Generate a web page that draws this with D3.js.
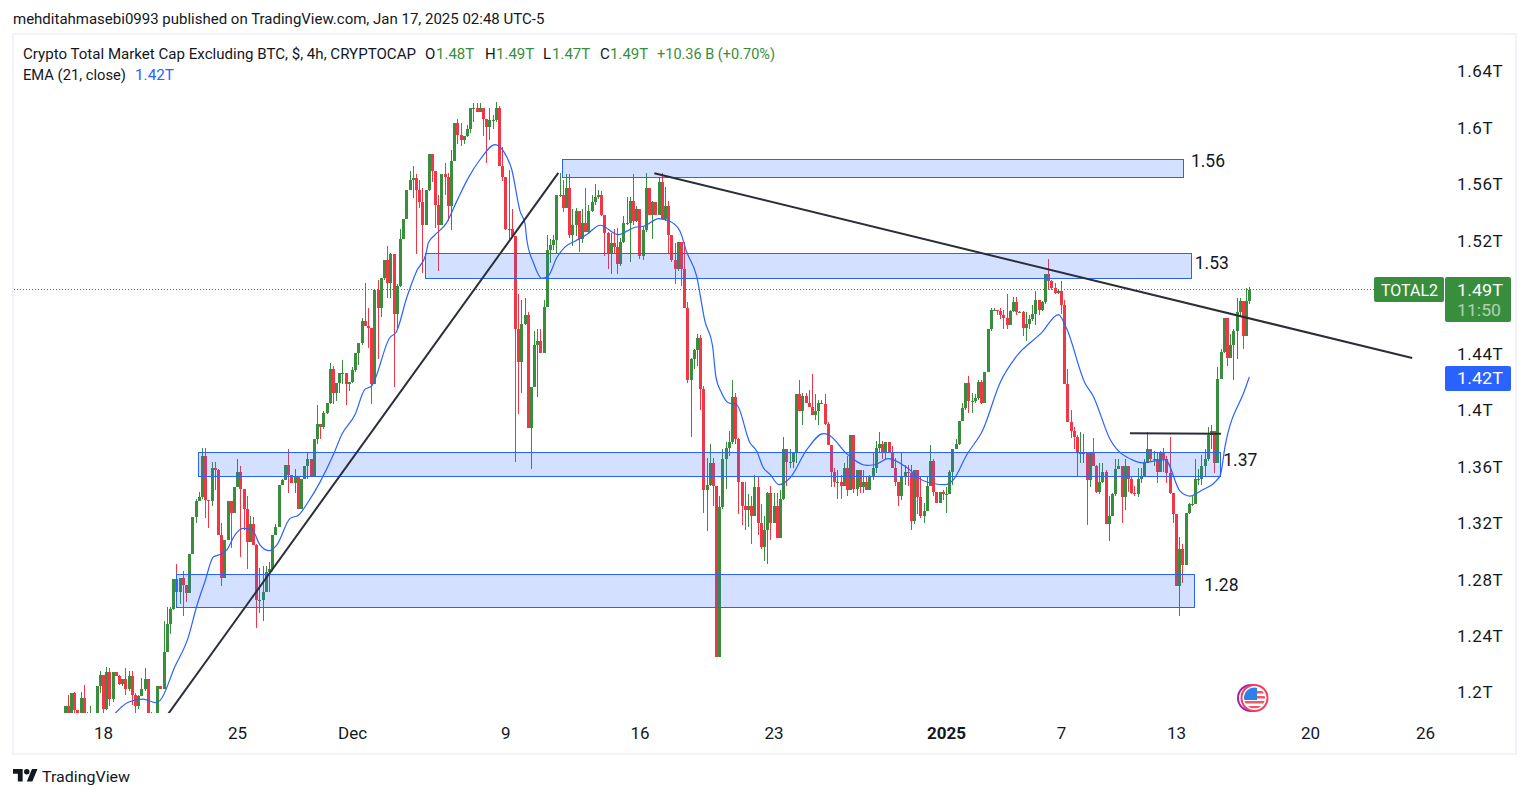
<!DOCTYPE html>
<html><head><meta charset="utf-8">
<script src="https://cdnjs.cloudflare.com/ajax/libs/d3/7.9.0/d3.min.js"></script>
<style>html,body{margin:0;padding:0;background:#fff;overflow:hidden}svg{display:block}text{font-family:Roboto,"Noto Sans",sans-serif}</style>
</head><body><svg id="c" width="1529" height="798"></svg>
<script>
const closes=[
1.190,1.180,1.199,1.187,1.180,1.196,1.180,1.180,1.180,1.180,
1.204,1.212,1.188,1.214,1.195,1.214,1.211,1.206,1.209,1.202,
1.211,1.198,1.190,1.197,1.202,1.209,1.180,1.180,1.180,1.204,
1.202,1.228,1.248,1.259,1.280,1.271,1.281,1.276,1.270,1.298,
1.324,1.335,1.338,1.367,1.336,1.335,1.359,1.357,1.311,1.281,
1.308,1.335,1.327,1.345,1.356,1.344,1.330,1.306,1.319,1.304,
1.265,1.265,1.271,1.285,1.287,1.311,1.317,1.347,1.350,1.361,
1.354,1.348,1.353,1.330,1.351,1.360,1.365,1.352,1.379,1.390,
1.388,1.398,1.405,1.429,1.412,1.419,1.426,1.426,1.418,1.420,
1.428,1.440,1.447,1.463,1.459,1.458,1.418,1.485,1.472,1.493,
1.506,1.490,1.510,1.468,1.488,1.521,1.535,1.556,1.563,1.564,
1.556,1.547,1.531,1.556,1.581,1.569,1.545,1.531,1.567,1.565,
1.544,1.576,1.603,1.595,1.591,1.594,1.599,1.614,1.614,1.611,
1.614,1.606,1.600,1.605,1.605,1.614,1.573,1.565,1.528,1.528,
1.523,1.457,1.434,1.461,1.467,1.387,1.416,1.446,1.449,1.440,
1.473,1.513,1.517,1.520,1.552,1.552,1.543,1.557,1.524,1.531,
1.541,1.521,1.532,1.526,1.541,1.547,1.551,1.552,1.538,1.525,
1.510,1.518,1.515,1.503,1.519,1.532,1.532,1.548,1.534,1.542,
1.509,1.527,1.557,1.538,1.547,1.538,1.561,1.535,1.544,1.524,
1.506,1.500,1.519,1.500,1.472,1.421,1.436,1.442,1.451,1.415,
1.343,1.347,1.362,1.346,1.225,1.331,1.365,1.373,1.377,1.409,
1.379,1.349,1.332,1.329,1.332,1.325,1.345,1.320,1.303,1.315,
1.341,1.320,1.332,1.309,1.337,1.372,1.363,1.363,1.370,1.411,
1.399,1.410,1.405,1.402,1.396,1.399,1.405,1.404,1.390,1.375,
1.356,1.349,1.349,1.346,1.359,1.343,1.382,1.344,1.357,1.345,
1.349,1.343,1.353,1.359,1.373,1.376,1.370,1.377,1.369,1.359,
1.349,1.339,1.353,1.356,1.355,1.321,1.357,1.338,1.325,1.328,
1.346,1.364,1.342,1.334,1.342,1.340,1.340,1.356,1.372,1.376,
1.392,1.401,1.419,1.406,1.406,1.408,1.420,1.405,1.427,1.457,
1.471,1.471,1.470,1.467,1.465,1.460,1.470,1.476,1.469,1.469,
1.458,1.461,1.464,1.468,1.478,1.471,1.476,1.496,1.491,1.486,
1.483,1.484,1.474,1.418,1.391,1.385,1.381,1.369,1.369,1.369,
1.350,1.369,1.360,1.342,1.349,1.356,1.319,1.325,1.340,1.358,
1.360,1.338,1.360,1.351,1.341,1.340,1.351,1.352,1.362,1.372,
1.365,1.365,1.356,1.369,1.365,1.355,1.341,1.326,1.275,1.301,
1.290,1.327,1.333,1.333,1.351,1.351,1.360,1.365,1.382,1.385,
1.362,1.422,1.441,1.465,1.437,1.446,1.456,1.469,1.477,1.452,
1.477,1.485];
const highs=[
1.190,1.198,1.199,1.200,1.187,1.200,1.205,1.186,1.190,1.185,
1.204,1.215,1.212,1.218,1.217,1.214,1.214,1.212,1.209,1.217,
1.215,1.215,1.199,1.198,1.210,1.217,1.209,1.186,1.185,1.204,
1.204,1.250,1.260,1.260,1.280,1.291,1.281,1.286,1.276,1.298,
1.324,1.337,1.342,1.373,1.373,1.336,1.363,1.363,1.358,1.320,
1.308,1.335,1.335,1.345,1.365,1.360,1.344,1.339,1.325,1.324,
1.305,1.288,1.289,1.289,1.292,1.311,1.319,1.347,1.351,1.361,
1.372,1.354,1.358,1.353,1.351,1.360,1.370,1.365,1.379,1.403,
1.390,1.399,1.405,1.433,1.431,1.419,1.426,1.435,1.426,1.420,
1.430,1.440,1.447,1.465,1.490,1.472,1.458,1.485,1.492,1.493,
1.506,1.516,1.511,1.510,1.489,1.528,1.535,1.556,1.569,1.573,
1.567,1.563,1.557,1.556,1.581,1.581,1.569,1.552,1.567,1.575,
1.568,1.584,1.603,1.606,1.603,1.594,1.602,1.614,1.617,1.617,
1.617,1.614,1.606,1.614,1.609,1.618,1.615,1.586,1.565,1.570,
1.542,1.523,1.482,1.478,1.479,1.469,1.416,1.456,1.457,1.457,
1.478,1.524,1.521,1.524,1.552,1.568,1.563,1.567,1.567,1.542,
1.543,1.541,1.542,1.557,1.545,1.552,1.560,1.556,1.555,1.538,
1.526,1.525,1.528,1.529,1.522,1.537,1.551,1.551,1.567,1.544,
1.542,1.530,1.568,1.557,1.548,1.547,1.565,1.568,1.558,1.548,
1.524,1.518,1.519,1.519,1.519,1.476,1.437,1.443,1.454,1.453,
1.417,1.366,1.376,1.366,1.346,1.339,1.372,1.377,1.385,1.421,
1.412,1.380,1.349,1.349,1.340,1.339,1.354,1.353,1.333,1.325,
1.342,1.346,1.341,1.341,1.343,1.381,1.372,1.372,1.370,1.411,
1.421,1.412,1.412,1.414,1.425,1.411,1.407,1.407,1.411,1.391,
1.375,1.359,1.357,1.354,1.362,1.367,1.382,1.382,1.357,1.357,
1.357,1.353,1.354,1.370,1.378,1.384,1.378,1.377,1.377,1.374,
1.366,1.349,1.369,1.361,1.361,1.361,1.357,1.357,1.353,1.334,
1.353,1.375,1.365,1.342,1.342,1.343,1.345,1.357,1.372,1.379,
1.392,1.405,1.419,1.424,1.412,1.411,1.421,1.421,1.427,1.457,
1.472,1.472,1.471,1.472,1.471,1.482,1.471,1.480,1.480,1.470,
1.470,1.469,1.467,1.474,1.484,1.478,1.477,1.496,1.507,1.492,
1.490,1.485,1.491,1.478,1.429,1.400,1.388,1.382,1.384,1.383,
1.369,1.369,1.380,1.361,1.362,1.362,1.357,1.339,1.341,1.365,
1.365,1.360,1.365,1.360,1.353,1.346,1.359,1.359,1.365,1.384,
1.372,1.371,1.369,1.371,1.373,1.367,1.381,1.341,1.326,1.310,
1.305,1.327,1.334,1.339,1.365,1.358,1.368,1.372,1.388,1.389,
1.385,1.430,1.443,1.465,1.465,1.454,1.457,1.479,1.479,1.477,
1.486,1.487];
const lows=[
1.180,1.180,1.180,1.180,1.180,1.180,1.180,1.180,1.180,1.180,
1.180,1.199,1.185,1.187,1.190,1.193,1.211,1.205,1.204,1.198,
1.201,1.191,1.180,1.188,1.197,1.201,1.180,1.180,1.180,1.180,
1.202,1.202,1.228,1.241,1.258,1.267,1.262,1.254,1.264,1.270,
1.298,1.320,1.335,1.337,1.323,1.316,1.332,1.343,1.311,1.275,
1.281,1.308,1.302,1.327,1.345,1.296,1.315,1.287,1.306,1.304,
1.245,1.256,1.250,1.271,1.271,1.286,1.311,1.317,1.347,1.350,
1.341,1.348,1.341,1.330,1.330,1.351,1.351,1.352,1.352,1.376,
1.379,1.386,1.397,1.404,1.404,1.406,1.412,1.418,1.403,1.413,
1.419,1.427,1.432,1.446,1.459,1.444,1.404,1.418,1.436,1.466,
1.492,1.479,1.479,1.416,1.458,1.487,1.521,1.535,1.556,1.550,
1.510,1.543,1.497,1.531,1.555,1.561,1.529,1.498,1.531,1.552,
1.534,1.527,1.576,1.588,1.587,1.588,1.593,1.596,1.604,1.611,
1.611,1.594,1.575,1.591,1.599,1.604,1.573,1.562,1.527,1.521,
1.522,1.363,1.397,1.412,1.460,1.387,1.358,1.416,1.409,1.440,
1.440,1.473,1.504,1.513,1.510,1.551,1.540,1.543,1.522,1.516,
1.523,1.512,1.518,1.526,1.525,1.540,1.545,1.549,1.537,1.509,
1.500,1.496,1.510,1.496,1.502,1.518,1.531,1.505,1.531,1.533,
1.507,1.506,1.526,1.538,1.521,1.538,1.538,1.535,1.534,1.511,
1.505,1.489,1.498,1.488,1.472,1.419,1.381,1.429,1.431,1.400,
1.327,1.314,1.346,1.332,1.225,1.225,1.330,1.344,1.367,1.376,
1.376,1.326,1.318,1.315,1.317,1.305,1.325,1.311,1.301,1.293,
1.291,1.308,1.320,1.309,1.309,1.336,1.346,1.359,1.359,1.362,
1.399,1.389,1.405,1.402,1.396,1.393,1.389,1.404,1.389,1.375,
1.345,1.345,1.337,1.337,1.346,1.339,1.343,1.341,1.339,1.341,
1.341,1.343,1.343,1.350,1.355,1.369,1.365,1.365,1.369,1.359,
1.346,1.332,1.336,1.347,1.346,1.315,1.319,1.326,1.323,1.320,
1.328,1.346,1.339,1.334,1.334,1.336,1.327,1.340,1.347,1.372,
1.375,1.392,1.400,1.398,1.398,1.405,1.407,1.404,1.405,1.427,
1.456,1.470,1.467,1.464,1.457,1.457,1.460,1.469,1.467,1.469,
1.452,1.449,1.457,1.463,1.460,1.467,1.470,1.475,1.485,1.485,
1.482,1.482,1.468,1.418,1.391,1.380,1.372,1.352,1.362,1.362,
1.318,1.345,1.360,1.341,1.340,1.348,1.319,1.307,1.325,1.339,
1.359,1.320,1.329,1.342,1.340,1.339,1.338,1.348,1.352,1.362,
1.364,1.360,1.348,1.356,1.356,1.348,1.340,1.320,1.275,1.254,
1.277,1.290,1.326,1.332,1.333,1.347,1.347,1.353,1.364,1.372,
1.355,1.362,1.422,1.440,1.431,1.437,1.421,1.436,1.467,1.443,
1.452,1.475];
const firstOpen=1.180;
const emaBars=[15.7,19.9,24.6,28.3,29.8,34.5,38.7,41.3,43.9,46.6,48.4,50.7,53.3,55.8,58.6,61.2,64.1,66.4,70.6,73.2,76.3,80,84.2,86.8,90.95,94,96.1,101.8,103.9,107.1,110.2,113.1,113.9,115.9,119.6,122.8,126.4,130.1,134.8,137.4,140,142.6,144.2,144.7,146.8,149.4,151.4,154.1,156.7,159.8,163.5,167.7,173.4,178.6,181.3,186,189.5,192.7,194.7,197.9,200.5,202.9,203.9,205.7,207.8,210.4,214.6,216.7,218.8,220.9,223.7,227.1,232.4,237.6,239.2,244.9,251.1,253.7,257.9,263.7,268.9,275.7,278.3,282.5,287.6,292.9,298.1,305.9,311.2,313.7,319.5,322.1,327.4,334.6,337.3,344.6,349.3,352.4,355.6,361.8,363.4,369.6,371];
const emaVals=[1.1847,1.1927,1.1950,1.1925,1.1939,1.2179,1.2387,1.2604,1.2781,1.2958,1.2972,1.3005,1.3112,1.3159,1.3152,1.3041,1.3001,1.3041,1.3230,1.3253,1.3348,1.3489,1.3684,1.3826,1.3967,1.4144,1.4168,1.4510,1.4553,1.4793,1.4982,1.5100,1.5183,1.5237,1.5324,1.5478,1.5643,1.5773,1.5879,1.5832,1.5702,1.5407,1.5313,1.5206,1.5041,1.4930,1.4947,1.5077,1.5154,1.5194,1.5241,1.5307,1.5241,1.5293,1.5300,1.5354,1.5335,1.5265,1.5123,1.4946,1.4627,1.4450,1.4238,1.4120,1.4049,1.4037,1.3766,1.3707,1.3589,1.3542,1.3469,1.3516,1.3717,1.3830,1.3823,1.3688,1.3606,1.3610,1.3653,1.3591,1.3497,1.3469,1.3504,1.3681,1.3860,1.4190,1.4379,1.4544,1.4674,1.4579,1.4190,1.4096,1.3789,1.3642,1.3624,1.3647,1.3423,1.3388,1.3423,1.3529,1.3742,1.4143,1.4233];
const zoneFrom=[155.75,112.9,41.85,34.9];
const zoneTo=[350.2,352.9,362,353.7];
const zoneTop=[1.5779,1.5110,1.3699,1.2837];
const zoneBottom=[1.5648,1.4933,1.3527,1.2601];
const trendFromBar=[32.45,184.65,333.6];
const trendFromVal=[1.1846,1.5675,1.3834];
const trendToBar=[154.6,422,362.1];
const trendToVal=[1.5678,1.4366,1.3829];
const noteLabels=["1.56","1.53","1.37","1.28"];
const noteBars=[352.7,353.9,362.8,356.9];
const noteVals=[1.5765,1.5042,1.3645,1.2759];
const priceTicks=[1.64,1.6,1.56,1.52,1.44,1.4,1.36,1.32,1.28,1.24,1.2];
const priceTickLabels=["1.64T","1.6T","1.56T","1.52T","1.44T","1.4T","1.36T","1.32T","1.28T","1.24T","1.2T"];
const timeTicks=["2024-11-18","2024-11-25","2024-12-01","2024-12-09","2024-12-16","2024-12-23","2025-01-01","2025-01-07","2025-01-13","2025-01-20","2025-01-26"];
const timeTickLabels=["18","25","Dec","9","16","23","2025","7","13","20","26"];

const GREEN="#388e3c",RED="#f23645",BLUE="#2962ff",INK="#131722";
const svg=d3.select("#c");
const H4=4*3600*1000, t0=Date.UTC(2024,10,16);
const barDate=i=>new Date(t0+i*H4);
const utc=s=>new Date(s+"T00:00:00Z");
const x=d3.scaleUtc().domain([utc("2024-11-18"),utc("2025-01-26")]).range([103,1425]);
const y=d3.scaleLinear().domain([1.2,1.64]).range([692,71]);
const bx=i=>x(barDate(i));

svg.append("rect").attr("x",13).attr("y",34).attr("width",1503).attr("height",720).attr("fill","#fff").attr("stroke","#f0f3fa").attr("stroke-width",2);
const defs=svg.append("defs");
defs.append("clipPath").attr("id","pane").append("rect").attr("x",14).attr("y",35).attr("width",1431).attr("height",678);

const pane=svg.append("g").attr("clip-path","url(#pane)");
const last=closes[closes.length-1];
pane.append("line").attr("x1",14).attr("x2",1445).attr("y1",Math.floor(y(last))+.5).attr("y2",Math.floor(y(last))+.5).attr("stroke",GREEN).attr("stroke-dasharray","1,2").attr("shape-rendering","crispEdges");

const bars=closes.map((c,i)=>({i,o:i?closes[i-1]:firstOpen,c,h:highs[i],l:lows[i]}));
const col=d=>d.c>=d.o?GREEN:RED;
pane.append("g").selectAll("rect").data(bars).join("rect")
 .attr("x",d=>Math.round(bx(d.i))-.5+0).attr("width",1)
 .attr("y",d=>y(d.h)).attr("height",d=>Math.max(1,y(d.l)-y(d.h))).attr("fill",col).attr("shape-rendering","crispEdges");
pane.append("g").selectAll("rect").data(bars).join("rect")
 .attr("x",d=>Math.round(bx(d.i))-1.5).attr("width",3)
 .attr("y",d=>y(Math.max(d.o,d.c))).attr("height",d=>Math.max(1,Math.abs(y(d.o)-y(d.c)))).attr("fill",col).attr("shape-rendering","crispEdges");

const emaLine=d3.line().x(d=>bx(d[0])).y(d=>y(d[1])).curve(d3.curveMonotoneX);
pane.append("path").attr("d",emaLine(emaBars.map((b,i)=>[b,emaVals[i]]))).attr("fill","none").attr("stroke",BLUE).attr("stroke-width",1.2);

pane.append("g").selectAll("rect").data(zoneFrom).join("rect")
 .attr("x",(d,i)=>Math.round(bx(d))+.5).attr("width",(d,i)=>Math.round(bx(zoneTo[i])-bx(d)))
 .attr("y",(d,i)=>Math.round(y(zoneTop[i]))+.5).attr("height",(d,i)=>Math.round(y(zoneBottom[i])-y(zoneTop[i])))
 .attr("fill",BLUE).attr("fill-opacity",.2).attr("stroke",BLUE).attr("stroke-width",1);

pane.append("g").selectAll("line").data(trendFromBar).join("line")
 .attr("x1",d=>bx(d)).attr("y1",(d,i)=>y(trendFromVal[i])).attr("x2",(d,i)=>bx(trendToBar[i])).attr("y2",(d,i)=>y(trendToVal[i]))
 .attr("stroke","#2a2e39").attr("stroke-width",2);

svg.append("g").selectAll("text").data(noteLabels).join("text").text(d=>d)
 .attr("x",(d,i)=>bx(noteBars[i])).attr("y",(d,i)=>y(noteVals[i])).attr("dy",".35em")
 .attr("font-size",17.5).attr("fill",INK);

const yAxis=d3.axisRight(y).tickValues(priceTicks).tickSize(0).tickFormat((d,i)=>priceTickLabels[i]);
const ya=svg.append("g").attr("transform","translate(1457,0.5)").call(yAxis);
ya.select(".domain").remove();
ya.selectAll("text").attr("x",0).attr("text-anchor","start").attr("font-size",17).attr("letter-spacing",.6).attr("fill",INK).style("font-family","Roboto");
const xAxis=d3.axisBottom(x).tickValues(timeTicks.map(utc)).tickSize(0).tickFormat((d,i)=>timeTickLabels[i]);
const xa=svg.append("g").attr("transform","translate(0,733.5)").call(xAxis);
xa.select(".domain").remove();
xa.selectAll("text").attr("y",0).attr("dy",".35em").attr("font-size",17).attr("fill",INK).style("font-family","Roboto")
 .attr("font-weight",(d,i)=>timeTickLabels[i]==="2025"?700:400);

const t=(s,xx,yy,size,fill,anchor,extra,len)=>{const n=svg.append("text").text(s).attr("x",xx).attr("y",yy).attr("dy",".35em").attr("font-size",size).attr("fill",fill).attr("text-anchor",anchor||"start").attr("opacity",extra||1);if(len)n.attr("textLength",len).attr("lengthAdjust","spacingAndGlyphs");return n;};
t("mehditahmasebi0993 published on TradingView.com, Jan 17, 2025 02:48 UTC-5",13,19,15,INK);
t("Crypto Total Market Cap Excluding BTC, $, 4h, CRYPTOCAP",23,54,15,INK,"start",1,393);
t("O",425,54,15,INK);t("1.48T",436,54,15,GREEN);
t("H",485,54,15,INK);t("1.49T",496,54,15,GREEN);
t("L",543,54,15,INK);t("1.47T",552,54,15,GREEN);
t("C",600,54,15,INK);t("1.49T",610,54,15,GREEN);
t("+10.36 B (+0.70%)",657,54,15,GREEN,"start",1,118);
t("EMA (21, close)",23,75,15,INK,"start",1,103);t("1.42T",135,75,15,BLUE,"start",1,39);

const tag=(xx,yy,w,h,fill)=>svg.append("rect").attr("x",xx).attr("y",yy).attr("width",w).attr("height",h).attr("rx",2).attr("fill",fill);
tag(1374,277,70,25,GREEN);tag(1445,277,66,45,GREEN);tag(1445,366,66,25,BLUE);
t("TOTAL2",1409.5,290,16.5,"#fff","middle",1,57);
t("1.49T",1457,290,17,"#fff","start",1,46);
t("11:50",1457,310,17,"#fff","start",.6,44);
t("1.42T",1457,378.5,17,"#fff","start",1,46);

const logo=svg.append("g").attr("transform","translate(13,766.2) scale(.69)").attr("fill",INK);
logo.append("path").attr("d","M14 22H7V11H0V4h14v18zM28 22h-8l7.5-18h8L28 22z");
logo.append("circle").attr("cx",20).attr("cy",8).attr("r",4);
t("TradingView",42,776.5,15.5,INK,"start",1,88);

const fl=svg.append("g");
defs.append("clipPath").attr("id","flag").append("circle").attr("cx",1254.5).attr("cy",698).attr("r",10.5);
fl.append("circle").attr("cx",1251).attr("cy",698).attr("r",13).attr("fill","none").attr("stroke","#9c27b0").attr("stroke-width",2);
fl.append("circle").attr("cx",1254.5).attr("cy",698).attr("r",13).attr("fill","#fff").attr("stroke","#f23f5d").attr("stroke-width",2);
const fc=fl.append("g").attr("clip-path","url(#flag)");
fc.append("rect").attr("x",1243).attr("y",687).attr("width",23).attr("height",22).attr("fill","#fff");
fc.selectAll(".s").data([691,696,701,706]).join("rect").attr("x",1243).attr("y",d=>d).attr("width",23).attr("height",2.5).attr("fill","#f0566c");
fc.append("rect").attr("x",1243).attr("y",687).attr("width",14).attr("height",13).attr("fill","#2f80ed");
</script></body></html>
